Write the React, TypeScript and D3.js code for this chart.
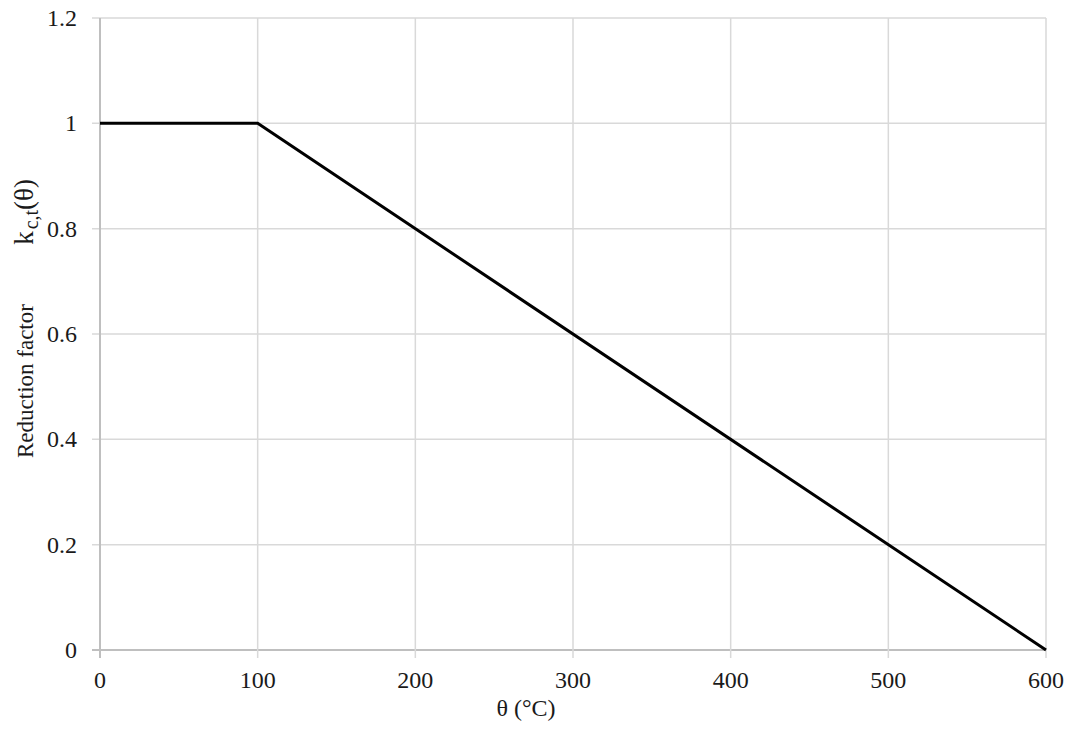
import React from "react";
import * as d3 from "d3";

// Reduction factor k_c,t(θ) versus temperature θ
const temps = [0, 100, 600];
const factors = [1, 1, 0];
const xTicks = [0, 100, 200, 300, 400, 500, 600];
const yTicks = [0, 0.2, 0.4, 0.6, 0.8, 1, 1.2];

const W = 1072;
const H = 733;
const left = 100;
const right = 1046;
const top = 18;
const bottom = 650;
const font = "'Liberation Serif', 'Times New Roman', serif";

export default function App() {
  const x = d3.scaleLinear().domain([0, 600]).range([left, right]);
  const y = d3.scaleLinear().domain([0, 1.2]).range([bottom, top]);
  const pts = temps.map((t, i) => [t, factors[i]] as [number, number]);
  const line = d3
    .line<[number, number]>()
    .x((d) => x(d[0]))
    .y((d) => y(d[1]));

  return (
    <svg
      width={W}
      height={H}
      style={{ position: "absolute", left: 0, top: 0, background: "#fff" }}
      fontFamily={font}
    >
      {/* horizontal gridlines */}
      {yTicks.map((v) => (
        <line
          key={"gy" + v}
          x1={left - 8}
          x2={right}
          y1={y(v)}
          y2={y(v)}
          stroke={v === 0 ? "#bfbfbf" : "#d9d9d9"}
          strokeWidth={v === 0 ? 2 : 1.5}
        />
      ))}
      {/* vertical gridlines */}
      {xTicks.map((v) => (
        <line
          key={"gx" + v}
          x1={x(v)}
          x2={x(v)}
          y1={top}
          y2={bottom + 8}
          stroke={v === 0 ? "#bfbfbf" : "#d9d9d9"}
          strokeWidth={v === 0 ? 2 : 1.5}
        />
      ))}
      {/* y tick labels */}
      {yTicks.map((v) => (
        <text
          key={"ty" + v}
          x={left - 23}
          y={y(v)}
          dy="0.34em"
          textAnchor="end"
          fontSize={24}
          fill="#1a1a1a"
        >
          {d3.format("~g")(v)}
        </text>
      ))}
      {/* x tick labels */}
      {xTicks.map((v) => (
        <text
          key={"tx" + v}
          x={x(v)}
          y={bottom + 38}
          textAnchor="middle"
          fontSize={24}
          fill="#1a1a1a"
        >
          {v}
        </text>
      ))}
      {/* data line */}
      <path d={line(pts) ?? ""} fill="none" stroke="#000" strokeWidth={3} />
      {/* axis titles */}
      <text x={526} y={716} textAnchor="middle" fontSize={24} fill="#1a1a1a">
        θ (°C)
      </text>
      <g transform="translate(33, 0) rotate(-90)">
        <text x={-458} y={0} textAnchor="start" fontSize={23} fill="#1a1a1a">
          Reduction factor
        </text>
        <text x={-179} y={0} textAnchor="end" fontSize={27} fill="#1a1a1a">
          k
          <tspan fontSize={20} dy={5} dx={2}>
            c,t
          </tspan>
          <tspan dy={-5}>(θ)</tspan>
        </text>
      </g>
    </svg>
  );
}
